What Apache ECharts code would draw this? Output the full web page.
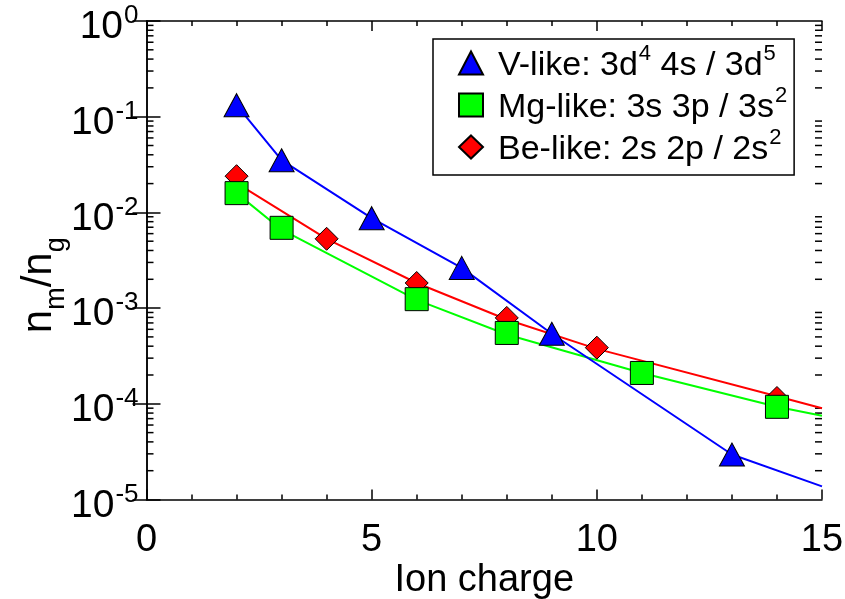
<!DOCTYPE html>
<html><head><meta charset="utf-8">
<script src="https://cdn.jsdelivr.net/npm/echarts@6/dist/echarts.min.js"></script>
<style>html,body{margin:0;padding:0;background:#fff}#c{width:845px;height:599px}</style>
</head><body><div id="c"></div>
<script>
const FONT = '"Liberation Sans", Arial, Helvetica, sans-serif';

// Tick values
const xTickInterval = 5;
const yDecades = [1e-5, 1e-4, 1e-3, 1e-2, 1e-1, 1];
const minorMult = [2, 3, 4, 5, 6, 7, 8, 9];

// Series names (legend)
const nameV = 'V-like';
const nameMg = 'Mg-like';
const nameBe = 'Be-like';

// Markers
const xV  = [2, 3, 5, 7, 9, 13];
const yV  = [0.132, 0.0351, 0.0087, 0.00263, 5.4e-4, 2.95e-5];
const xMg = [2, 3, 6, 8, 11, 14];
const yMg = [0.0159, 0.0069, 0.00124, 5.5e-4, 2.1e-4, 9.3e-5];
const xBe = [2, 4, 6, 8, 10, 14];
const yBe = [0.0239, 0.0053, 0.00183, 7.9e-4, 3.86e-4, 1.15e-4];

// Fitted curves
const cxV  = [2, 3, 5, 7, 9, 13, 15];
const cyV  = [0.132, 0.0351, 0.0087, 0.00263, 5.4e-4, 2.95e-5, 1.37e-5];
const cxMg = [2, 3, 6, 8, 11, 14, 15];
const cyMg = [0.0159, 0.0066, 0.00122, 5.3e-4, 2.1e-4, 9.3e-5, 7.5e-5];
const cxBe = [2, 4, 6, 8, 10, 14, 15];
const cyBe = [0.0202, 0.0053, 0.00183, 7.6e-4, 3.75e-4, 1.2e-4, 9.0e-5];

const zip = (a, b) => a.map((v, i) => [v, b[i]]);
const minorVals = [];
yDecades.slice(0, -1).forEach(d => minorMult.forEach(m => minorVals.push([0, d * m])));

const chart = echarts.init(document.getElementById('c'), null, {renderer: 'canvas'});

const axisLineStyle = {color: '#000', width: 1.5};
const supLabel = v => {
  const e = Math.round(Math.log10(v));
  return '{b|10}{s|' + (e < 0 ? '-' + (-e) : e) + '}';
};

const legendRich = {
  f: {fontFamily: FONT, fontSize: 34, color: '#000', lineHeight: 40, verticalAlign: 'bottom', padding: [0, 0, 0, 10]},
  t: {fontFamily: FONT, fontSize: 34, color: '#000', lineHeight: 40, verticalAlign: 'bottom'},
  s: {fontFamily: FONT, fontSize: 22, color: '#000', lineHeight: 40, verticalAlign: 'top', padding: [0, 0, 0, 1]}
};
const legendText = {};
legendText[nameV]  = '{f|V-like: 3d}{s|4}{t| 4s / 3d}{s|5}';
legendText[nameMg] = '{f|Mg-like: 3s 3p / 3s}{s|2}';
legendText[nameBe] = '{f|Be-like: 2s 2p / 2s}{s|2}';

const option = {
  animation: false,
  backgroundColor: '#fff',
  grid: {left: 146.5, right: 23, top: 21, bottom: 99.5, containLabel: false, outerBoundsMode: 'none'},
  xAxis: [{
    type: 'value', min: 0, max: 15, interval: xTickInterval,
    axisLine: {show: true, lineStyle: axisLineStyle},
    axisTick: {show: true, inside: true, length: 10, lineStyle: {color: '#000', width: 1.5}},
    minorTick: {show: true, splitNumber: 5, length: 5, lineStyle: {color: '#000', width: 1.5}},
    splitLine: {show: false},
    axisLabel: {fontFamily: FONT, fontSize: 38, color: '#000', margin: 22},
    name: 'Ion charge', nameLocation: 'middle', nameGap: 62, nameMoveOverlap: false,
    nameTextStyle: {fontFamily: FONT, fontSize: 38, color: '#000'}
  }, {
    type: 'value', min: 0, max: 15, interval: xTickInterval, position: 'top',
    axisLine: {show: true, lineStyle: axisLineStyle},
    axisTick: {show: true, inside: true, length: 10, lineStyle: {color: '#000', width: 1.5}},
    minorTick: {show: true, splitNumber: 5, length: 5, lineStyle: {color: '#000', width: 1.5}},
    splitLine: {show: false}, axisLabel: {show: false}
  }],
  yAxis: [{
    type: 'log', logBase: 10, min: 1e-5, max: 1,
    axisLine: {show: true, lineStyle: axisLineStyle},
    axisTick: {show: true, inside: true, length: 14, lineStyle: {color: '#000', width: 1.5}},
    splitLine: {show: false},
    axisLabel: {
      margin: 8, formatter: supLabel, padding: [8, 0, 0, 0],
      rich: {
        b: {fontFamily: FONT, fontSize: 39, color: '#000', lineHeight: 44, verticalAlign: 'bottom'},
        s: {fontFamily: FONT, fontSize: 26, color: '#000', lineHeight: 44, verticalAlign: 'top', padding: [0, 0, 0, 1]}
      }
    },
    name: '{n|n}{s|m}{n|/n}{s|g}', nameLocation: 'middle', nameRotate: 90, nameGap: 76, nameMoveOverlap: false,
    nameTextStyle: {
      padding: [0, 50, 0, 0],
      rich: {
        n: {fontFamily: FONT, fontSize: 42, color: '#000', lineHeight: 52, verticalAlign: 'top'},
        s: {fontFamily: FONT, fontSize: 27, color: '#000', lineHeight: 30, verticalAlign: 'bottom'}
      }
    }
  }, {
    type: 'log', logBase: 10, min: 1e-5, max: 1, position: 'right',
    axisLine: {show: true, lineStyle: axisLineStyle},
    axisTick: {show: true, inside: true, length: 14, lineStyle: {color: '#000', width: 1.5}},
    splitLine: {show: false}, axisLabel: {show: false}
  }],
  legend: {
    orient: 'vertical', left: 433, top: 39,
    data: [nameV, nameMg, nameBe],
    backgroundColor: '#fff', borderColor: '#000', borderWidth: 1.5, borderRadius: 0,
    padding: [4, 7, 8, 25], itemGap: 2, itemWidth: 24, itemHeight: 23, itemTextGap: 10,
    formatter: n => legendText[n],
    textStyle: {rich: legendRich}
  },
  series: [
    {type: 'custom', silent: true, data: minorVals, encode: {x: 0, y: 1}, z: 1,
     renderItem: (params, api) => {
       const v = api.value(1);
       const pL = api.coord([0, v]);
       const pR = api.coord([15, v]);
       const st = {stroke: '#000', lineWidth: 1.5};
       return {type: 'group', children: [
         {type: 'line', shape: {x1: pL[0], y1: pL[1], x2: pL[0] + 7, y2: pL[1]}, style: st},
         {type: 'line', shape: {x1: pR[0] - 7, y1: pR[1], x2: pR[0], y2: pR[1]}, style: st}
       ]};
     }},
    {name: 'curveBe', type: 'line', data: zip(cxBe, cyBe), showSymbol: false, symbol: 'none',
     lineStyle: {color: '#ff0000', width: 2}, z: 2, silent: true},
    {name: 'curveMg', type: 'line', data: zip(cxMg, cyMg), showSymbol: false, symbol: 'none',
     lineStyle: {color: '#00ff00', width: 2}, z: 2, silent: true},
    {name: 'curveV', type: 'line', data: zip(cxV, cyV), showSymbol: false, symbol: 'none',
     lineStyle: {color: '#0000ff', width: 2}, z: 2, silent: true},
    {name: nameBe, type: 'scatter', data: zip(xBe, yBe), symbol: 'diamond', symbolSize: [23, 23],
     itemStyle: {color: '#ff0000', borderColor: '#000', borderWidth: 1, opacity: 1}, z: 3},
    {name: nameMg, type: 'scatter', data: zip(xMg, yMg), symbol: 'rect', symbolSize: [23, 23],
     itemStyle: {color: '#00ff00', borderColor: '#000', borderWidth: 1, opacity: 1}, z: 4},
    {name: nameV, type: 'scatter', data: zip(xV, yV), symbol: 'triangle', symbolSize: [25, 23],
     itemStyle: {color: '#0000ff', borderColor: '#000', borderWidth: 1, opacity: 1}, z: 5}
  ]
};
chart.setOption(option);
</script></body></html>
